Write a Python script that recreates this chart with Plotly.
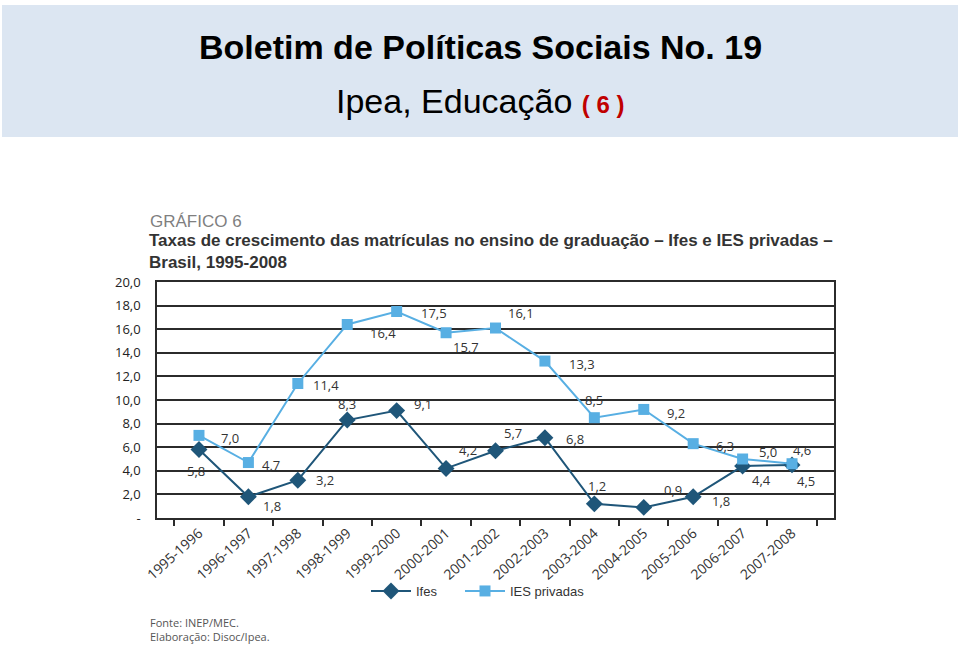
import plotly.graph_objects as go

# ---------------- data ----------------
periods = ["1995-1996", "1996-1997", "1997-1998", "1998-1999", "1999-2000",
           "2000-2001", "2001-2002", "2002-2003", "2003-2004", "2004-2005",
           "2005-2006", "2006-2007", "2007-2008"]
ifes = [5.8, 1.8, 3.2, 8.3, 9.1, 4.2, 5.7, 6.8, 1.2, 0.9, 1.8, 4.4, 4.5]
ies_privadas = [7.0, 4.7, 11.4, 16.4, 17.5, 15.7, 16.1, 13.3, 8.5, 9.2, 6.3, 5.0, 4.6]
y_ticks = [0, 2, 4, 6, 8, 10, 12, 14, 16, 18, 20]
y_tick_text = ["-", "2,0", "4,0", "6,0", "8,0", "10,0", "12,0", "14,0", "16,0", "18,0", "20,0"]

# label offsets (pixels) for data labels
ifes_off = [(-3, -21), (24, -9), (27, 0), (0, 16), (26, 7), (22, 18), (17, 18),
            (30, -1), (3, 18), (29, 17), (28, -4), (19, -14), (14, -16)]
ies_off = [(31, -3), (23, -2), (28, -2), (36, -9), (37, -2), (20, -14), (25, 15),
           (37, -3), (0, 18), (32, -4), (32, -2), (25, 7), (10, 14)]

C_IFES = "#1f5679"
C_IES = "#58afe3"
GRID = "#2b2b2b"
W, H = 960, 648

def fmt(v):
    return f"{v:.1f}".replace(".", ",")

fig = go.Figure()
fig.add_trace(go.Scatter(x=periods, y=ifes, name="Ifes", mode="lines+markers",
                         line=dict(color=C_IFES, width=2), legend="legend",
                         marker=dict(symbol="diamond", size=13, color=C_IFES)))
fig.add_trace(go.Scatter(x=periods, y=ies_privadas, name="IES privadas", mode="lines+markers",
                         line=dict(color=C_IES, width=2), legend="legend2",
                         marker=dict(symbol="square", size=11, color=C_IES)))

annotations = []
for series, offs in ((ifes, ifes_off), (ies_privadas, ies_off)):
    for p, v, (dx, dy) in zip(periods, series, offs):
        annotations.append(dict(x=p, y=v, xref="x", yref="y", text=fmt(v), showarrow=False,
                                xshift=dx, yshift=dy,
                                font=dict(family="Open Sans", size=13, color="#333333")))

# header texts
annotations += [
    dict(x=0.5, y=1 - 47 / H, xref="paper", yref="paper", showarrow=False,
         yanchor="middle",
         text="<b>Boletim de Políticas Sociais No. 19</b>",
         font=dict(family="Liberation Sans", size=34, color="#000000")),
    dict(x=0.5, y=1 - 101 / H, xref="paper", yref="paper", showarrow=False,
         yanchor="middle",
         text="Ipea, Educação <span style='font-size:24px;color:#c00000'><b>( 6 )</b></span>",
         font=dict(family="Liberation Sans", size=34, color="#000000")),
    dict(x=148 / W, y=1 - 222 / H, xref="paper", yref="paper", showarrow=False,
         xanchor="left", yanchor="middle", text="GRÁFICO 6",
         font=dict(family="Liberation Sans", size=17, color="#7f7f7f")),
    dict(x=147 / W, y=1 - 251 / H, xref="paper", yref="paper", showarrow=False,
         xanchor="left", yanchor="middle", align="left",
         text="<b>Taxas de crescimento das matrículas no ensino de graduação – Ifes e IES privadas –<br>Brasil, 1995-2008</b>",
         font=dict(family="Liberation Sans", size=17, color="#333333")),
    dict(x=148 / W, y=1 - 629 / H, xref="paper", yref="paper", showarrow=False,
         xanchor="left", yanchor="middle", align="left",
         text="Fonte: INEP/MEC.<br>Elaboração: Disoc/Ipea.",
         font=dict(family="Open Sans", size=11, color="#555555")),
]

legend_style = dict(orientation="h", yanchor="middle", y=1 - 591 / H, xanchor="left",
                    font=dict(family="Liberation Sans", size=13, color="#333333"),
                    itemwidth=40, bgcolor="rgba(0,0,0,0)")

fig.update_layout(
    width=W, height=H,
    margin=dict(l=0, r=0, t=0, b=0),
    paper_bgcolor="white", plot_bgcolor="white",
    showlegend=True,
    legend=dict(legend_style, x=366 / W),
    legend2=dict(legend_style, x=460 / W),
    shapes=[dict(type="rect", xref="paper", yref="paper", x0=2 / W, x1=958 / W,
                 y0=1 - 137 / H, y1=1 - 5 / H, fillcolor="#dce6f2", line=dict(width=0),
                 layer="below")],
    annotations=annotations,
    xaxis=dict(domain=[157 / W, 834 / W], type="category", tickson="boundaries",
               automargin=False,
               ticks="outside", ticklen=6, tickcolor=GRID, tickwidth=1.5,
               showline=True, linecolor=GRID, linewidth=1.5, mirror=True,
               showgrid=False, tickangle=-42,
               tickfont=dict(family="Open Sans", size=14, color="#333333")),
    yaxis=dict(domain=[1 - 518 / H, 1 - 282 / H], range=[0, 20],
               automargin=False,
               tickvals=y_ticks, ticktext=y_tick_text, ticklabelstandoff=12,
               showgrid=True, gridcolor=GRID, gridwidth=1.5,
               showline=True, linecolor=GRID, linewidth=1.5, mirror=True,
               ticks="", zeroline=False,
               tickfont=dict(family="Open Sans", size=13, color="#222222")),
)

fig.write_html("out.html", config={"displayModeBar": False},
               post_script="document.body.style.margin='0';")
